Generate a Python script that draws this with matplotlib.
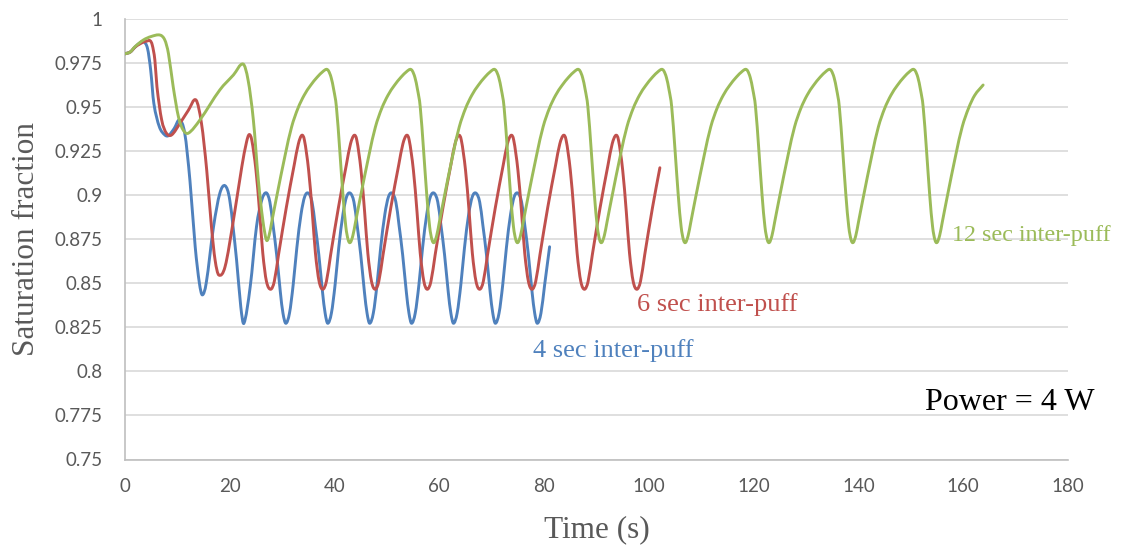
import matplotlib
matplotlib.use("Agg")
import matplotlib.pyplot as plt
from matplotlib.path import Path
from matplotlib.patches import PathPatch

# ---------------- data ----------------
t_blue = [0, 1.0, 2.0, 3.0, 3.6, 4.3, 4.9, 5.5, 6.55, 7.6, 8.3, 9.4, 10.4, 11.4, 12.4, 13.4,
          14.2, 14.76, 15.5, 16.9, 18.1, 19.1, 20.0, 21.3, 22.1, 22.7, 23.9, 25.1, 26.1, 26.95,
          27.65, 28.25, 28.95, 29.65, 30.15, 30.7, 31.4, 32.1, 32.8, 33.6, 34.3, 35.0,
          35.7, 36.3, 37.0, 37.7, 38.2, 38.7, 39.4, 40.1, 40.8, 41.6, 42.3, 43.0,
          43.7, 44.3, 45.0, 45.7, 46.2, 46.7, 47.4, 48.1, 48.8, 49.6, 50.3, 51.0,
          51.7, 52.3, 53.0, 53.7, 54.2, 54.7, 55.4, 56.1, 56.8, 57.6, 58.3, 59.0,
          59.7, 60.3, 61.0, 61.7, 62.2, 62.7, 63.4, 64.1, 64.8, 65.6, 66.3, 67.0,
          67.7, 68.3, 69.0, 69.7, 70.2, 70.7, 71.4, 72.1, 72.8, 73.6, 74.3, 75.0,
          75.7, 76.3, 77.0, 77.7, 78.2, 78.7, 79.4, 80.1, 81.05]
v_blue = [0.980, 0.981, 0.984, 0.9865, 0.9868, 0.983, 0.9708, 0.952, 0.9387, 0.934, 0.9336, 0.9377,
          0.9425, 0.935, 0.908, 0.8706, 0.850, 0.8433, 0.850, 0.882, 0.9009, 0.9052, 0.897, 0.863,
          0.8366, 0.8272, 0.848, 0.882, 0.897, 0.9012,
          0.896, 0.883, 0.866, 0.845, 0.833, 0.8272, 0.833, 0.849, 0.870, 0.889, 0.899, 0.901,
          0.896, 0.883, 0.866, 0.845, 0.833, 0.8272, 0.833, 0.849, 0.870, 0.889, 0.899, 0.901,
          0.896, 0.883, 0.866, 0.845, 0.833, 0.8272, 0.833, 0.849, 0.870, 0.889, 0.899, 0.901,
          0.896, 0.883, 0.866, 0.845, 0.833, 0.8272, 0.833, 0.849, 0.870, 0.889, 0.899, 0.901,
          0.896, 0.883, 0.866, 0.845, 0.833, 0.8272, 0.833, 0.849, 0.870, 0.889, 0.899, 0.901,
          0.896, 0.883, 0.866, 0.845, 0.833, 0.8272, 0.833, 0.849, 0.870, 0.889, 0.899, 0.901,
          0.896, 0.883, 0.866, 0.845, 0.833, 0.8272, 0.833, 0.849, 0.8706]

t_red = [0, 1.0, 2.0, 3.5, 4.2, 4.8, 5.2, 5.7, 6.1, 7.0, 7.9, 8.9, 10.5, 12.1, 13.55, 14.6, 15.6,
         16.5, 17.2, 17.9, 19.1, 20.7, 22.3, 23.2, 23.7,
         24.2, 25.0, 25.7, 26.3, 27.0, 27.8, 28.5, 29.3, 30.8, 32.3, 33.1, 33.75,
         34.25, 35.05, 35.75, 36.35, 37.05, 37.75, 38.45, 39.25, 40.75, 42.25, 43.05, 43.75,
         44.25, 45.05, 45.75, 46.35, 47.05, 47.75, 48.45, 49.25, 50.75, 52.25, 53.05, 53.75,
         54.25, 55.05, 55.75, 56.35, 57.05, 57.7, 58.4, 59.2, 60.7, 62.2, 63.0, 63.7,
         64.2, 65.0, 65.7, 66.3, 67.0, 67.7, 68.4, 69.2, 70.7, 72.2, 73.0, 73.7,
         74.2, 75.0, 75.7, 76.3, 77.0, 77.7, 78.4, 79.2, 80.7, 82.2, 83.0, 83.7,
         84.2, 85.0, 85.7, 86.3, 87.0, 87.7, 88.4, 89.2, 90.7, 92.2, 93.0, 93.7,
         94.2, 95.0, 95.7, 96.3, 97.0, 97.7, 98.4, 99.2, 100.7, 102.1]
v_red = [0.980, 0.981, 0.984, 0.9866, 0.9872, 0.9874, 0.985, 0.9765, 0.9613, 0.9425, 0.935, 0.934,
         0.9406, 0.948, 0.9538, 0.9405, 0.914, 0.882, 0.863, 0.8546, 0.8593, 0.8858, 0.916, 0.930, 0.9342,
         0.931, 0.914, 0.890, 0.867, 0.851, 0.8465, 0.851, 0.866, 0.893, 0.917, 0.929, 0.9338,
         0.931, 0.914, 0.890, 0.867, 0.851, 0.8465, 0.851, 0.866, 0.893, 0.917, 0.929, 0.9338,
         0.931, 0.914, 0.890, 0.867, 0.851, 0.8465, 0.851, 0.866, 0.893, 0.917, 0.929, 0.9338,
         0.931, 0.914, 0.890, 0.867, 0.851, 0.8465, 0.851, 0.866, 0.893, 0.917, 0.929, 0.9338,
         0.931, 0.914, 0.890, 0.867, 0.851, 0.8465, 0.851, 0.866, 0.893, 0.917, 0.929, 0.9338,
         0.931, 0.914, 0.890, 0.867, 0.851, 0.8465, 0.851, 0.866, 0.893, 0.917, 0.929, 0.9338,
         0.931, 0.914, 0.890, 0.867, 0.851, 0.8465, 0.851, 0.866, 0.893, 0.917, 0.929, 0.9338,
         0.931, 0.914, 0.890, 0.867, 0.851, 0.8465, 0.851, 0.866, 0.893, 0.9154]

t_green = [0, 1.0, 1.9, 3.5, 5.0, 6.7, 7.6, 8.3, 9.2, 10.2, 11.1, 12.1, 14.3, 18.1, 20.7, 22.55,
           23.5, 24.5, 25.45, 26.3, 27.0,
           27.5, 28.0, 28.85, 30.6, 31.8, 33.0, 34.2, 35.4, 36.7, 37.8, 38.45,
           38.85, 39.35, 39.85, 40.35, 41.0, 41.6, 42.15, 42.6, 43.0,
           43.5, 44.0, 44.85, 46.6, 47.8, 49.0, 50.2, 51.4, 52.7, 53.8, 54.45,
           54.85, 55.35, 55.85, 56.35, 57.0, 57.6, 58.15, 58.6, 59.0,
           59.5, 60.0, 60.85, 62.6, 63.8, 65.0, 66.2, 67.4, 68.7, 69.8, 70.45,
           70.85, 71.35, 71.85, 72.35, 73.0, 73.6, 74.15, 74.6, 75.0,
           75.5, 76.0, 76.85, 78.6, 79.8, 81.0, 82.2, 83.4, 84.7, 85.8, 86.45,
           86.85, 87.35, 87.85, 88.35, 89.0, 89.6, 90.15, 90.6, 91.0,
           91.5, 92.0, 92.85, 94.6, 95.8, 97.0, 98.2, 99.4, 100.7, 101.8, 102.45,
           102.85, 103.35, 103.85, 104.35, 105.0, 105.6, 106.15, 106.6, 107.0,
           107.5, 108.0, 108.85, 110.6, 111.8, 113.0, 114.2, 115.4, 116.7, 117.8, 118.45,
           118.85, 119.35, 119.85, 120.35, 121.0, 121.6, 122.15, 122.6, 123.0,
           123.5, 124.0, 124.85, 126.6, 127.8, 129.0, 130.2, 131.4, 132.7, 133.8, 134.45,
           134.85, 135.35, 135.85, 136.35, 137.0, 137.6, 138.15, 138.6, 139.0,
           139.5, 140.0, 140.85, 142.6, 143.8, 145.0, 146.2, 147.4, 148.7, 149.8, 150.45,
           150.85, 151.35, 151.85, 152.35, 153.0, 153.6, 154.15, 154.6, 155.0,
           155.5, 156.0, 156.85, 158.6, 159.8, 161.0, 162.2, 163.8]
v_green = [0.980, 0.981, 0.984, 0.9878, 0.9898, 0.9906, 0.9878, 0.980, 0.9613, 0.9443, 0.9368, 0.935,
           0.9425, 0.9595, 0.968, 0.9742, 0.965, 0.9425, 0.9084, 0.8858, 0.8744,
           0.877, 0.8845, 0.8975, 0.923, 0.9385, 0.949, 0.9565, 0.962, 0.9668, 0.970, 0.9712,
           0.9703, 0.9665, 0.9595, 0.950, 0.925, 0.900, 0.882, 0.8745, 0.873,
           0.877, 0.8845, 0.8975, 0.923, 0.9385, 0.949, 0.9565, 0.962, 0.9668, 0.970, 0.9712,
           0.9703, 0.9665, 0.9595, 0.950, 0.925, 0.900, 0.882, 0.8745, 0.873,
           0.877, 0.8845, 0.8975, 0.923, 0.9385, 0.949, 0.9565, 0.962, 0.9668, 0.970, 0.9712,
           0.9703, 0.9665, 0.9595, 0.950, 0.925, 0.900, 0.882, 0.8745, 0.873,
           0.877, 0.8845, 0.8975, 0.923, 0.9385, 0.949, 0.9565, 0.962, 0.9668, 0.970, 0.9712,
           0.9703, 0.9665, 0.9595, 0.950, 0.925, 0.900, 0.882, 0.8745, 0.873,
           0.877, 0.8845, 0.8975, 0.923, 0.9385, 0.949, 0.9565, 0.962, 0.9668, 0.970, 0.9712,
           0.9703, 0.9665, 0.9595, 0.950, 0.925, 0.900, 0.882, 0.8745, 0.873,
           0.877, 0.8845, 0.8975, 0.923, 0.9385, 0.949, 0.9565, 0.962, 0.9668, 0.970, 0.9712,
           0.9703, 0.9665, 0.9595, 0.950, 0.925, 0.900, 0.882, 0.8745, 0.873,
           0.877, 0.8845, 0.8975, 0.923, 0.9385, 0.949, 0.9565, 0.962, 0.9668, 0.970, 0.9712,
           0.9703, 0.9665, 0.9595, 0.950, 0.925, 0.900, 0.882, 0.8745, 0.873,
           0.877, 0.8845, 0.8975, 0.923, 0.9385, 0.949, 0.9565, 0.962, 0.9668, 0.970, 0.9712,
           0.9703, 0.9665, 0.9595, 0.950, 0.925, 0.900, 0.882, 0.8745, 0.873,
           0.877, 0.8845, 0.8975, 0.923, 0.9385, 0.949, 0.9565, 0.9623]

series_names = ["4 sec inter-puff", "6 sec inter-puff", "12 sec inter-puff"]
x_ticks = [0, 20, 40, 60, 80, 100, 120, 140, 160, 180]
y_ticks = [0.75, 0.775, 0.8, 0.825, 0.85, 0.875, 0.9, 0.925, 0.95, 0.975, 1.0]
y_tick_labels = ["0.75", "0.775", "0.8", "0.825", "0.85", "0.875", "0.9", "0.925", "0.95", "0.975", "1"]

# ---------------- style ----------------
C_BLUE, C_RED, C_GREEN = "#4F81BD", "#C0504D", "#9BBB59"
GRAY_TXT = "#595959"
SERIF = ["Liberation Serif", "DejaVu Serif"]


def smooth_line(ax, x, y, color, lw=2.1):
    """Excel-style smoothed line: cubic Bezier segments through the data points."""
    n = len(x)
    verts = [(x[0], y[0])]
    codes = [Path.MOVETO]
    for i in range(n - 1):
        x0, y0 = x[i], y[i]
        x1, y1 = x[i + 1], y[i + 1]
        xp, yp = (x[i - 1], y[i - 1]) if i > 0 else (x0, y0)
        xn, yn = (x[i + 2], y[i + 2]) if i + 2 < n else (x1, y1)
        h = x1 - x0
        d0 = (y1 - yp) / (x1 - xp) if x1 != xp else 0.0
        d1 = (yn - y0) / (xn - x0) if xn != x0 else 0.0
        c1 = (x0 + h / 3.0, y0 + d0 * h / 3.0)
        c2 = (x1 - h / 3.0, y1 - d1 * h / 3.0)
        verts += [c1, c2, (x1, y1)]
        codes += [Path.CURVE4, Path.CURVE4, Path.CURVE4]
    patch = PathPatch(Path(verts, codes), fill=False, edgecolor=color, lw=lw,
                      joinstyle="round", capstyle="round", transform=ax.transData, zorder=3)
    ax.add_patch(patch)


fig = plt.figure(figsize=(11.22, 5.48), dpi=100)
ax = fig.add_axes([125 / 1122, 1 - 459.5 / 548, (1068 - 125) / 1122, (459.5 - 18.5) / 548])

smooth_line(ax, t_blue, v_blue, C_BLUE)
smooth_line(ax, t_red, v_red, C_RED)
smooth_line(ax, t_green, v_green, C_GREEN)

ax.set_xlim(0, 180)
ax.set_ylim(0.75, 1.0)
ax.set_xticks(x_ticks)
ax.set_xticklabels([str(v) for v in x_ticks])
ax.set_yticks(y_ticks)
ax.set_yticklabels(y_tick_labels)
ax.tick_params(axis="both", length=0, colors=GRAY_TXT, labelsize=13.5)
ax.tick_params(axis="y", pad=16)
ax.tick_params(axis="x", pad=13)
for lab in ax.get_xticklabels() + ax.get_yticklabels():
    lab.set_fontfamily(["Lato", "DejaVu Sans"])

ax.grid(axis="y", color="#D9D9D9", lw=1.2, zorder=0)
ax.set_axisbelow(True)
for s in ("top", "right"):
    ax.spines[s].set_visible(False)
for s in ("left", "bottom"):
    ax.spines[s].set_color("#BFBFBF")
    ax.spines[s].set_linewidth(1.2)

fig.text(27 / 1122, 1 - 239 / 548, "Saturation fraction", rotation=90, ha="center", va="center",
         fontsize=22.5, color=GRAY_TXT, family=SERIF)
fig.text(596.5 / 1122, 1 - 530 / 548, "Time (s)", ha="center", va="center",
         fontsize=22.5, color=GRAY_TXT, family=SERIF)

ax.text(77.9, 0.8081, series_names[0], color=C_BLUE, fontsize=19, family=SERIF, ha="left", va="baseline")
ax.text(97.7, 0.8342, series_names[1], color=C_RED, fontsize=19, family=SERIF, ha="left", va="baseline")
ax.text(157.9, 0.8739, series_names[2], color=C_GREEN, fontsize=17.4, family=SERIF, ha="left",
        va="baseline", clip_on=False)
ax.text(152.7, 0.7781, "Power = 4 W", color="black", fontsize=23, family=SERIF, ha="left", va="baseline")

fig.savefig("out.png", dpi=100)
